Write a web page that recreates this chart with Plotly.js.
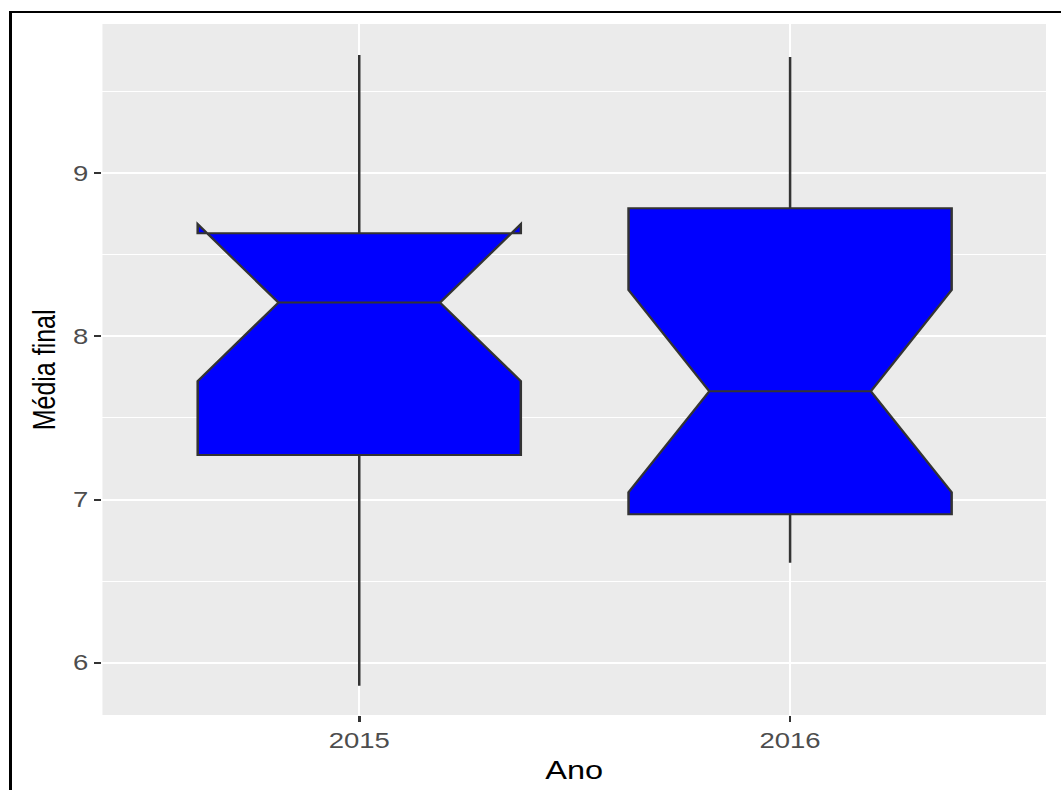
<!DOCTYPE html>
<html>
<head>
<meta charset="utf-8">
<script src="https://cdn.plot.ly/plotly-3.0.1.min.js"></script>
<style>
  html, body { margin: 0; padding: 0; background: #ffffff; overflow: hidden; }
  #wrap { position: relative; width: 1061px; height: 790px; overflow: hidden; }
  #plot { position: absolute; left: 0; top: 0; width: 849px; height: 790px;
          transform: scaleX(1.2497); transform-origin: 0 0; }
  #frame { position: absolute; left: 9px; top: 11px; width: 1100px; height: 900px;
           border-left: 3px solid #000; border-top: 2px solid #000; pointer-events: none; }
</style>
</head>
<body>
<div id="wrap">
  <div id="plot"></div>
  <div id="frame"></div>
</div>
<script>
// Data (notched boxplot, Média final by Ano)
const years      = ['2015', '2016'];
const q1         = [7.273, 6.909];
const medians    = [8.207, 7.664];
const q3         = [8.632, 8.785];
const lowerFence = [5.859, 6.612];
const upperFence = [9.725, 9.713];
const notchSpans = [0.481, 0.620];
const yTicks     = [6, 7, 8, 9];

const trace = {
  type: 'box',
  x: years,
  q1: q1,
  median: medians,
  q3: q3,
  lowerfence: lowerFence,
  upperfence: upperFence,
  notched: true,
  notchspan: notchSpans,
  notchwidth: 0.25,
  whiskerwidth: 0,
  width: 0.75,
  fillcolor: '#0000FF',
  line: { color: '#333333', width: 2 },
  boxpoints: false,
  hoverinfo: 'skip',
  showlegend: false
};

const layout = {
  width: 849,
  height: 790,
  margin: { l: 81.6, r: 12.4, t: 24, b: 75 },
  paper_bgcolor: '#FFFFFF',
  plot_bgcolor: '#EBEBEB',
  font: { family: 'Liberation Sans, Arial, sans-serif', color: '#4D4D4D' },
  showlegend: false,
  xaxis: {
    type: 'category',
    range: [-0.596, 1.594],
    showgrid: true,
    gridcolor: '#FFFFFF',
    gridwidth: 1.8,
    zeroline: false,
    showline: false,
    ticks: 'outside',
    ticklen: 6,
    tickwidth: 2,
    tickcolor: '#333333',
    tickfont: { size: 22, color: '#4D4D4D' },
    title: { text: 'Ano', font: { size: 26, color: '#000000' }, standoff: 8 },
    fixedrange: true
  },
  yaxis: {
    range: [5.679, 9.915],
    tickvals: yTicks,
    ticktext: yTicks.map(String),
    showgrid: true,
    gridcolor: '#FFFFFF',
    gridwidth: 2,
    zeroline: false,
    showline: false,
    ticks: 'outside',
    ticklen: 6,
    tickwidth: 2,
    tickcolor: '#333333',
    tickfont: { size: 22, color: '#4D4D4D' },
    minor: { dtick: 0.5, tick0: 0, showgrid: true, gridcolor: '#FFFFFF', gridwidth: 1, ticks: '' },
    title: { text: '' },
    fixedrange: true
  },
  annotations: [{
    text: 'Média final',
    xref: 'paper', yref: 'paper',
    x: -0.0625, y: 0.5,
    xanchor: 'center', yanchor: 'middle',
    textangle: -90,
    showarrow: false,
    font: { size: 25, color: '#000000', family: 'Liberation Sans, Arial, sans-serif' }
  }]
};

Plotly.newPlot('plot', [trace], layout, { displayModeBar: false, staticPlot: true });
</script>
</body>
</html>
